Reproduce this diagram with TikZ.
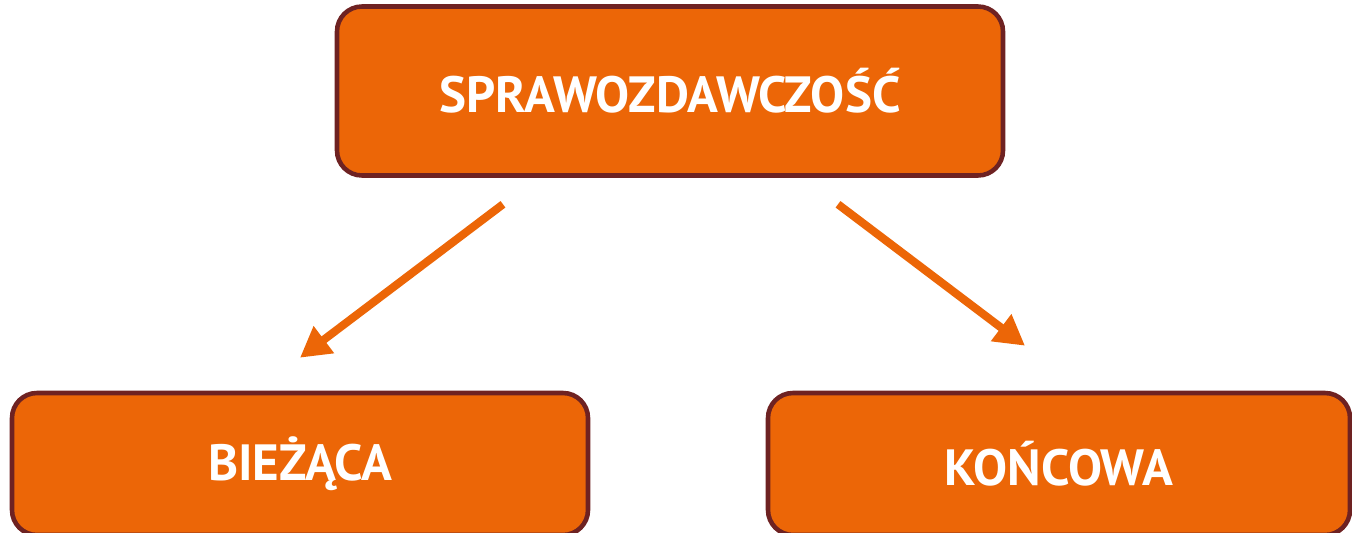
\documentclass[tikz,border=0pt]{standalone}
\usepackage{fontspec}
\setmainfont{PT Sans}
\usepackage{xcolor}
\usetikzlibrary{arrows.meta}
\definecolor{boxorange}{HTML}{EC6607}
\definecolor{boxbrown}{HTML}{6E2222}

\begin{document}
\begin{tikzpicture}[main node/.style={draw=boxbrown, fill=boxorange, line width=2.6pt, rounded corners=0.5cm, text=white, font=\fontsize{29}{35}\selectfont\bfseries, inner sep=0pt}, arrow line/.style={draw=boxorange, line width=4.6pt, -{Triangle[length=0.6cm,width=0.64cm]}}]
\useasboundingbox (0,0) rectangle (27.04,10.64);
\node[main node, minimum width=13.32cm, minimum height=3.38cm] (top) at (13.4,8.82) {SPRAWOZDAWCZOŚĆ};
\node[main node, minimum width=11.52cm, minimum height=2.84cm] (cur) at (6.0,1.36) {BIEŻĄCA};
\node[main node, minimum width=11.64cm, minimum height=2.84cm] (fin) at (21.18,1.36) {KOŃCOWA};
\path (top.south) ++(-3.34,-0.53) coordinate (s1);
\path (top.south) ++(3.36,-0.53) coordinate (s2);
\path (cur.north) ++(0,0.66) coordinate (e1);
\path (fin.north) ++(-0.68,0.9) coordinate (e2);
\draw[arrow line] (s1) -- (e1);
\draw[arrow line] (s2) -- (e2);
\end{tikzpicture}
\end{document}
